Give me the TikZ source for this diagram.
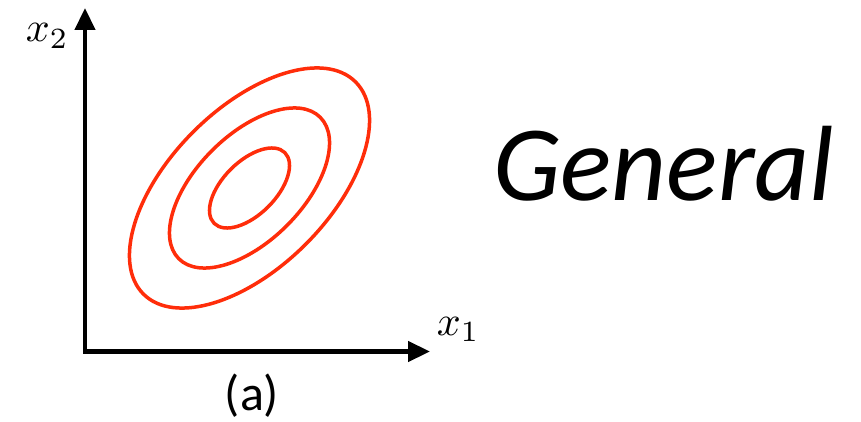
\documentclass[tikz,border=0pt]{standalone}
\usepackage{fontspec}
\newfontfamily\slidefont{Carlito}
\usepackage{tikz}
\usetikzlibrary{arrows.meta,positioning}
\definecolor{contourred}{RGB}{255,45,10}

\begin{document}
\begin{tikzpicture}[
    x=1pt, y=1pt,
    axis/.style={-{Triangle[length=22pt,width=20pt]}, line width=4.5pt},
    contour/.style={draw=contourred, line width=3.5pt},
    axlabel/.style={inner sep=0pt, scale=4.2}
]
    \useasboundingbox (0,0) rectangle (861,421);

    % axes
    \coordinate (O) at (85,69.5);
    \coordinate (xend) at (430,69.5);
    \coordinate (yend) at (85,413);
    \draw[axis] (O) -- (xend);
    \draw[axis] ([yshift=-2.25pt]O) -- (yend);

    % contours of the density
    \coordinate (mu) at (249.5,233);
    \foreach \k in {1,2,3}
        \draw[contour, rotate around={45:(mu)}] (mu) ellipse ({50*\k} and {26.5*\k});

    % labels
    \node[axlabel, anchor=base west] (xtwo) at (25,379) {$x_2$};
    \node[axlabel, anchor=base west] (xone) at (436,86) {$x_1$};
    \node[inner sep=0pt, anchor=base, font=\slidefont\fontsize{50}{60}\selectfont] (caption) at (252,11) {(a)};
    \node[inner sep=0pt, anchor=base west, font=\slidefont\itshape\fontsize{107}{120}\selectfont] (general) at (493,221) {General};
\end{tikzpicture}
\end{document}
